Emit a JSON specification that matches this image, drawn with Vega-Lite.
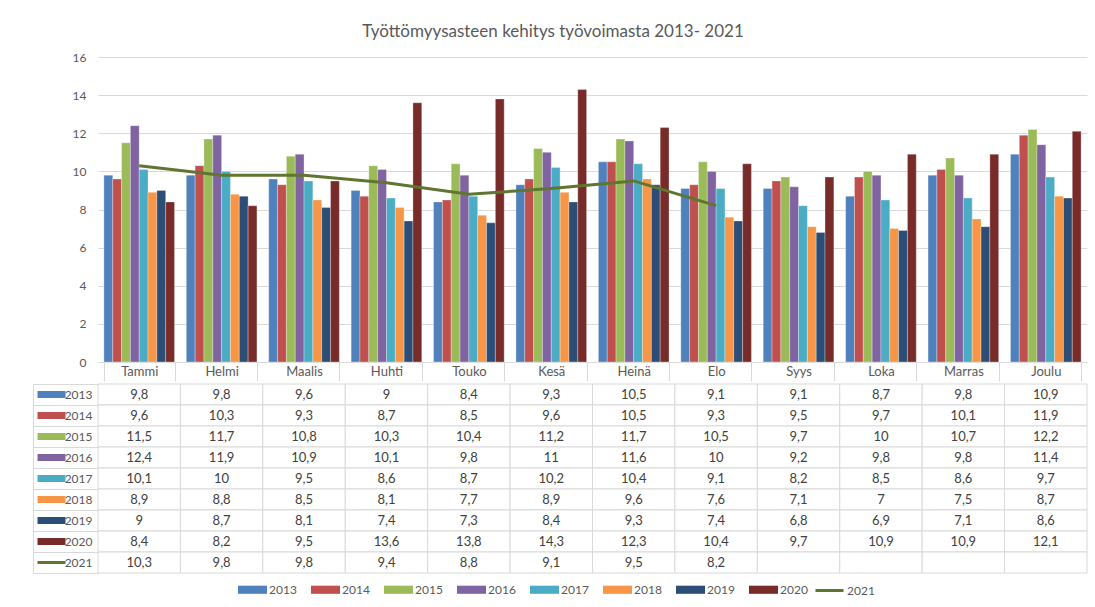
{
  "$schema": "https://vega.github.io/schema/vega-lite/v6.json",
  "background": "white",
  "padding": {"left": 32, "top": 23, "right": 5, "bottom": 5},
  "title": {"text": "Työttömyysasteen kehitys työvoimasta 2013- 2021", "fontSize": 17, "font": "Lato", "fontWeight": "normal", "color": "#595959", "offset": 10, "anchor": "middle", "dx": -7},
  "data": {"values": [
    {"month": "Tammi", "series": "2013", "value": 9.8}, {"month": "Helmi", "series": "2013", "value": 9.8}, {"month": "Maalis", "series": "2013", "value": 9.6}, {"month": "Huhti", "series": "2013", "value": 9}, {"month": "Touko", "series": "2013", "value": 8.4}, {"month": "Kesä", "series": "2013", "value": 9.3}, {"month": "Heinä", "series": "2013", "value": 10.5}, {"month": "Elo", "series": "2013", "value": 9.1}, {"month": "Syys", "series": "2013", "value": 9.1}, {"month": "Loka", "series": "2013", "value": 8.7}, {"month": "Marras", "series": "2013", "value": 9.8}, {"month": "Joulu", "series": "2013", "value": 10.9},
    {"month": "Tammi", "series": "2014", "value": 9.6}, {"month": "Helmi", "series": "2014", "value": 10.3}, {"month": "Maalis", "series": "2014", "value": 9.3}, {"month": "Huhti", "series": "2014", "value": 8.7}, {"month": "Touko", "series": "2014", "value": 8.5}, {"month": "Kesä", "series": "2014", "value": 9.6}, {"month": "Heinä", "series": "2014", "value": 10.5}, {"month": "Elo", "series": "2014", "value": 9.3}, {"month": "Syys", "series": "2014", "value": 9.5}, {"month": "Loka", "series": "2014", "value": 9.7}, {"month": "Marras", "series": "2014", "value": 10.1}, {"month": "Joulu", "series": "2014", "value": 11.9},
    {"month": "Tammi", "series": "2015", "value": 11.5}, {"month": "Helmi", "series": "2015", "value": 11.7}, {"month": "Maalis", "series": "2015", "value": 10.8}, {"month": "Huhti", "series": "2015", "value": 10.3}, {"month": "Touko", "series": "2015", "value": 10.4}, {"month": "Kesä", "series": "2015", "value": 11.2}, {"month": "Heinä", "series": "2015", "value": 11.7}, {"month": "Elo", "series": "2015", "value": 10.5}, {"month": "Syys", "series": "2015", "value": 9.7}, {"month": "Loka", "series": "2015", "value": 10}, {"month": "Marras", "series": "2015", "value": 10.7}, {"month": "Joulu", "series": "2015", "value": 12.2},
    {"month": "Tammi", "series": "2016", "value": 12.4}, {"month": "Helmi", "series": "2016", "value": 11.9}, {"month": "Maalis", "series": "2016", "value": 10.9}, {"month": "Huhti", "series": "2016", "value": 10.1}, {"month": "Touko", "series": "2016", "value": 9.8}, {"month": "Kesä", "series": "2016", "value": 11}, {"month": "Heinä", "series": "2016", "value": 11.6}, {"month": "Elo", "series": "2016", "value": 10}, {"month": "Syys", "series": "2016", "value": 9.2}, {"month": "Loka", "series": "2016", "value": 9.8}, {"month": "Marras", "series": "2016", "value": 9.8}, {"month": "Joulu", "series": "2016", "value": 11.4},
    {"month": "Tammi", "series": "2017", "value": 10.1}, {"month": "Helmi", "series": "2017", "value": 10}, {"month": "Maalis", "series": "2017", "value": 9.5}, {"month": "Huhti", "series": "2017", "value": 8.6}, {"month": "Touko", "series": "2017", "value": 8.7}, {"month": "Kesä", "series": "2017", "value": 10.2}, {"month": "Heinä", "series": "2017", "value": 10.4}, {"month": "Elo", "series": "2017", "value": 9.1}, {"month": "Syys", "series": "2017", "value": 8.2}, {"month": "Loka", "series": "2017", "value": 8.5}, {"month": "Marras", "series": "2017", "value": 8.6}, {"month": "Joulu", "series": "2017", "value": 9.7},
    {"month": "Tammi", "series": "2018", "value": 8.9}, {"month": "Helmi", "series": "2018", "value": 8.8}, {"month": "Maalis", "series": "2018", "value": 8.5}, {"month": "Huhti", "series": "2018", "value": 8.1}, {"month": "Touko", "series": "2018", "value": 7.7}, {"month": "Kesä", "series": "2018", "value": 8.9}, {"month": "Heinä", "series": "2018", "value": 9.6}, {"month": "Elo", "series": "2018", "value": 7.6}, {"month": "Syys", "series": "2018", "value": 7.1}, {"month": "Loka", "series": "2018", "value": 7}, {"month": "Marras", "series": "2018", "value": 7.5}, {"month": "Joulu", "series": "2018", "value": 8.7},
    {"month": "Tammi", "series": "2019", "value": 9}, {"month": "Helmi", "series": "2019", "value": 8.7}, {"month": "Maalis", "series": "2019", "value": 8.1}, {"month": "Huhti", "series": "2019", "value": 7.4}, {"month": "Touko", "series": "2019", "value": 7.3}, {"month": "Kesä", "series": "2019", "value": 8.4}, {"month": "Heinä", "series": "2019", "value": 9.3}, {"month": "Elo", "series": "2019", "value": 7.4}, {"month": "Syys", "series": "2019", "value": 6.8}, {"month": "Loka", "series": "2019", "value": 6.9}, {"month": "Marras", "series": "2019", "value": 7.1}, {"month": "Joulu", "series": "2019", "value": 8.6},
    {"month": "Tammi", "series": "2020", "value": 8.4}, {"month": "Helmi", "series": "2020", "value": 8.2}, {"month": "Maalis", "series": "2020", "value": 9.5}, {"month": "Huhti", "series": "2020", "value": 13.6}, {"month": "Touko", "series": "2020", "value": 13.8}, {"month": "Kesä", "series": "2020", "value": 14.3}, {"month": "Heinä", "series": "2020", "value": 12.3}, {"month": "Elo", "series": "2020", "value": 10.4}, {"month": "Syys", "series": "2020", "value": 9.7}, {"month": "Loka", "series": "2020", "value": 10.9}, {"month": "Marras", "series": "2020", "value": 10.9}, {"month": "Joulu", "series": "2020", "value": 12.1},
    {"month": "Tammi", "series": "2021", "value": 10.3}, {"month": "Helmi", "series": "2021", "value": 9.8}, {"month": "Maalis", "series": "2021", "value": 9.8}, {"month": "Huhti", "series": "2021", "value": 9.4}, {"month": "Touko", "series": "2021", "value": 8.8}, {"month": "Kesä", "series": "2021", "value": 9.1}, {"month": "Heinä", "series": "2021", "value": 9.5}, {"month": "Elo", "series": "2021", "value": 8.2}, {"month": "Syys", "series": "2021", "value": null}, {"month": "Loka", "series": "2021", "value": null}, {"month": "Marras", "series": "2021", "value": null}, {"month": "Joulu", "series": "2021", "value": null}
  ]},
  "spacing": -4,
  "resolve": {"scale": {"x": "independent", "y": "independent"}},
  "vconcat": [
    {
      "width": 989,
      "height": 305,
      "encoding": {
        "x": {"field": "month", "type": "nominal", "title": null,
          "sort": ["Tammi", "Helmi", "Maalis", "Huhti", "Touko", "Kesä", "Heinä", "Elo", "Syys", "Loka", "Marras", "Joulu"],
          "scale": {"paddingInner": 0.143, "paddingOuter": 0.0715},
          "axis": {"orient": "bottom", "domain": true, "domainColor": "#d9d9d9", "ticks": true, "tickBand": "extent", "tickSize": 19, "tickColor": "#d9d9d9", "labelColor": "#595959", "labelFontSize": 13, "labelFont": "Lato", "labelPadding": -10, "labelBaseline": "middle", "labelAngle": 0, "grid": false}},
        "y": {"field": "value", "type": "quantitative", "title": null,
          "scale": {"domain": [0, 16], "nice": false},
          "axis": {"values": [0, 2, 4, 6, 8, 10, 12, 14, 16], "labelOverlap": false, "labelSeparation": 0, "labelBound": false, "labelFlush": false, "grid": true, "gridColor": "#d9d9d9", "domain": false, "ticks": false, "labelPadding": 12, "labelColor": "#595959", "labelFontSize": 12, "labelFont": "Lato"}}
      },
      "layer": [
        {
          "transform": [{"filter": "datum.series !== '2021'"}],
          "mark": {"type": "bar", "stroke": "white", "strokeOpacity": 0.5, "strokeWidth": 0.6},
          "encoding": {
            "xOffset": {"field": "series", "type": "nominal", "scale": {"paddingInner": 0, "paddingOuter": 0}},
            "fill": {"field": "series", "type": "nominal",
              "scale": {"domain": ["2013", "2014", "2015", "2016", "2017", "2018", "2019", "2020"], "range": ["#4F81BD", "#C0504D", "#9BBB59", "#8064A2", "#4BACC6", "#F79646", "#2C4D75", "#772C2A"]},
              "legend": {"orient": "none", "legendX": 140, "legendY": 518, "direction": "horizontal", "title": null, "symbolType": "M-1,-0.28H1V0.28H-1Z", "symbolSize": 841, "symbolStrokeWidth": 0, "labelFontSize": 12, "labelFont": "Lato", "labelColor": "#595959", "labelOffset": 2, "columnPadding": 14}}
          }
        },
        {
          "transform": [{"filter": "datum.series === '2021' && isValid(datum.value)"}],
          "mark": {"type": "line", "strokeWidth": 3},
          "encoding": {
            "order": {"value": null},
            "stroke": {"field": "series", "type": "nominal",
              "scale": {"domain": ["2021"], "range": ["#5F7530"]},
              "legend": {"orient": "none", "legendX": 716, "legendY": 518, "title": null, "symbolType": "stroke", "symbolSize": 784, "symbolStrokeWidth": 3, "labelFontSize": 12, "labelFont": "Lato", "labelColor": "#595959", "labelOffset": 2}}
          }
        }
      ]
    },
    {
      "width": 989,
      "height": 189,
      "resolve": {"axis": {"y": "independent"}},
      "encoding": {
        "x": {"field": "month", "type": "nominal", "title": null,
          "sort": ["Tammi", "Helmi", "Maalis", "Huhti", "Touko", "Kesä", "Heinä", "Elo", "Syys", "Loka", "Marras", "Joulu"],
          "scale": {"padding": 0}, "axis": null}
      },
      "layer": [
        {
          "mark": {"type": "rect", "fill": "white", "stroke": "#d9d9d9", "strokeWidth": 1},
          "encoding": {
            "y": {"field": "series", "type": "nominal", "title": null, "scale": {"padding": 0},
              "axis": {"orient": "left", "domain": false, "ticks": true, "tickBand": "extent", "tickSize": 65, "tickColor": "#d9d9d9", "labelPadding": -59, "labelColor": "#595959", "labelFontSize": 12, "labelFont": "Lato", "labelAlign": "right", "grid": false}}
          }
        },
        {
          "transform": [{"filter": "isValid(datum.value)"}],
          "mark": {"type": "text", "color": "#404040", "fontSize": 13, "font": "Lato"},
          "encoding": {
            "y": {"field": "series", "type": "nominal", "title": null,
              "axis": {"orient": "left", "offset": 65, "domain": true, "domainColor": "#d9d9d9", "ticks": false, "labels": false, "grid": false}},
            "text": {"field": "value", "type": "quantitative"}
          }
        },
        {
          "mark": {"type": "rect", "opacity": 0},
          "encoding": {
            "y": {"field": "series", "type": "nominal", "title": null,
              "axis": {"orient": "left", "offset": 61, "domain": false, "labels": false, "grid": false, "ticks": true, "tickSize": -28, "tickCap": "butt",
                "tickWidth": {"condition": {"test": "datum.value === '2021'", "value": 3}, "value": 7},
                "tickColor": {"condition": [
                  {"test": "datum.value === '2013'", "value": "#4F81BD"},
                  {"test": "datum.value === '2014'", "value": "#C0504D"},
                  {"test": "datum.value === '2015'", "value": "#9BBB59"},
                  {"test": "datum.value === '2016'", "value": "#8064A2"},
                  {"test": "datum.value === '2017'", "value": "#4BACC6"},
                  {"test": "datum.value === '2018'", "value": "#F79646"},
                  {"test": "datum.value === '2019'", "value": "#2C4D75"},
                  {"test": "datum.value === '2020'", "value": "#772C2A"}
                ], "value": "#5F7530"}}}
          }
        }
      ]
    }
  ],
  "config": {
    "view": {"stroke": null},
    "font": "Lato",
    "axis": {"labelOverlap": false},
    "axisY": {"labelOverlap": false},
    "locale": {"number": {"decimal": ",", "thousands": "\u00a0", "grouping": [3], "currency": ["", "\u00a0€"]}}
  }
}
